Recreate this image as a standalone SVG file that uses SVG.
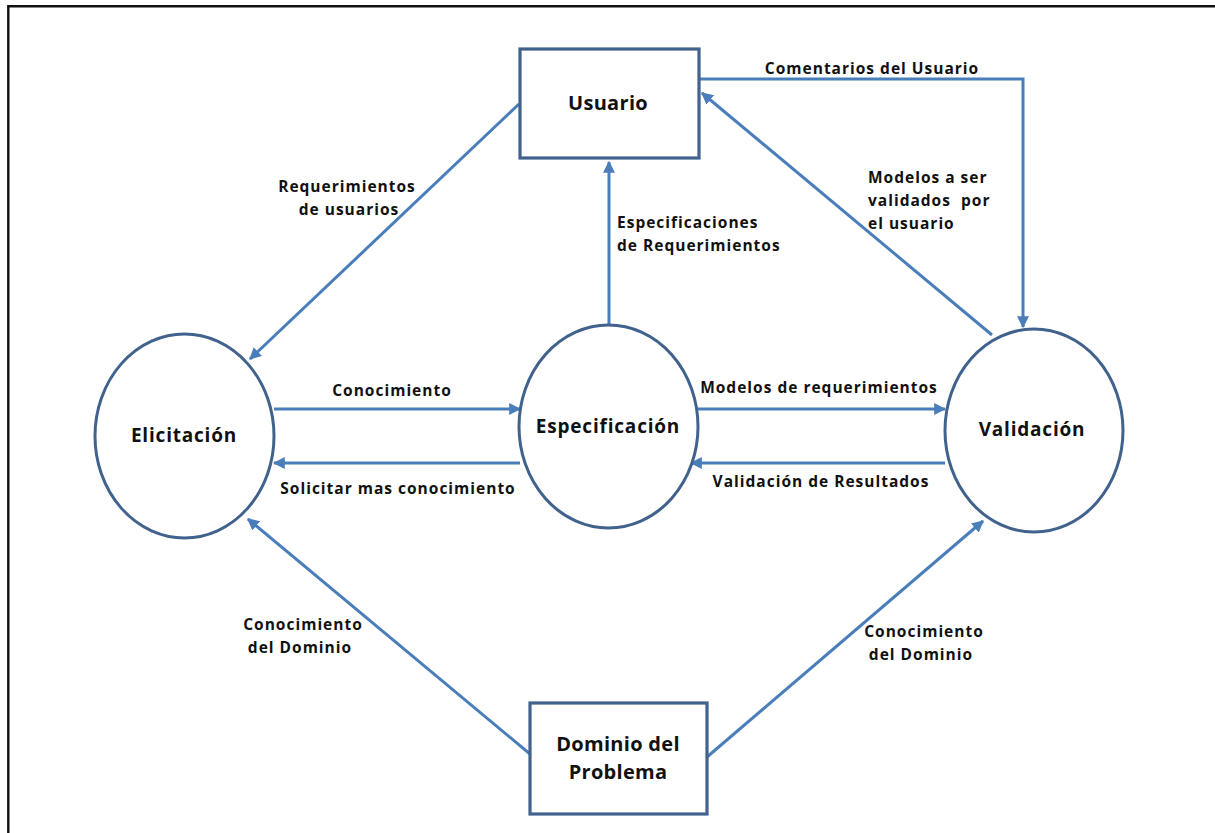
<svg xmlns="http://www.w3.org/2000/svg" width="1215" height="833" viewBox="0 0 1215 833">
  <style>
    .frame { fill: none; stroke: #111; stroke-width: 2.4; }
    .box { fill: #fff; stroke: #41628d; stroke-width: 3.2; }
    .oval { fill: #fff; stroke: #41628d; stroke-width: 3; }
    .edge { fill: none; stroke: #4a7ebb; stroke-width: 3; }
    .node-label { font-family: "Open Sans", "Liberation Sans", sans-serif; font-weight: 700; font-size: 19px; fill: #111; text-anchor: middle; letter-spacing: 0.8px; }
    .edge-label { font-family: "Open Sans", "Liberation Sans", sans-serif; font-weight: 700; font-size: 15.5px; fill: #111; letter-spacing: 1px; }
    .mid { text-anchor: middle; }
  </style>
  <defs>
    <marker id="arrow" viewBox="0 0 10 10" refX="9" refY="5" markerWidth="4" markerHeight="4" orient="auto" markerUnits="strokeWidth">
      <path d="M0,0 L10,5 L0,10 z" fill="#4a7ebb"/>
    </marker>
  </defs>

  <!-- page frame (top and left edges only) -->
  <path class="frame" d="M8.3,833 V6.3 H1215"/>

  <!-- connectors -->
  <g id="connectors">
    <line class="edge" x1="519" y1="104" x2="250" y2="359" marker-end="url(#arrow)"/>
    <line class="edge" x1="609" y1="325" x2="609" y2="162" marker-end="url(#arrow)"/>
    <line class="edge" x1="992" y1="335" x2="702" y2="93" marker-end="url(#arrow)"/>
    <polyline class="edge" points="699,79 1023,79 1023,327" marker-end="url(#arrow)"/>
    <line class="edge" x1="274" y1="409" x2="520" y2="409" marker-end="url(#arrow)"/>
    <line class="edge" x1="520" y1="463" x2="274" y2="463" marker-end="url(#arrow)"/>
    <line class="edge" x1="698" y1="409" x2="945" y2="409" marker-end="url(#arrow)"/>
    <line class="edge" x1="945" y1="463" x2="691" y2="463" marker-end="url(#arrow)"/>
    <line class="edge" x1="530" y1="754" x2="248" y2="519" marker-end="url(#arrow)"/>
    <line class="edge" x1="707" y1="757" x2="983" y2="521" marker-end="url(#arrow)"/>

    <!-- connector labels -->
    <text class="edge-label mid" x="872" y="74">Comentarios del Usuario</text>
    <text class="edge-label mid" x="347" y="192">Requerimientos</text>
    <text class="edge-label mid" x="349" y="215">de usuarios</text>
    <text class="edge-label" x="617" y="228">Especificaciones</text>
    <text class="edge-label" x="617" y="251">de Requerimientos</text>
    <text class="edge-label" x="868" y="183">Modelos a ser</text>
    <text class="edge-label" x="868" y="206" xml:space="preserve">validados  por</text>
    <text class="edge-label" x="868" y="229">el usuario</text>
    <text class="edge-label mid" x="392" y="396">Conocimiento</text>
    <text class="edge-label mid" x="398" y="494">Solicitar mas conocimiento</text>
    <text class="edge-label mid" x="819" y="393">Modelos de requerimientos</text>
    <text class="edge-label mid" x="821" y="487">Validación de Resultados</text>
    <text class="edge-label mid" x="303" y="630">Conocimiento</text>
    <text class="edge-label mid" x="300" y="653">del Dominio</text>
    <text class="edge-label mid" x="924" y="637">Conocimiento</text>
    <text class="edge-label mid" x="921" y="660">del Dominio</text>
  </g>

  <g id="usuario">
    <rect class="box" x="520" y="49" width="179" height="109"/>
    <text class="node-label" x="608" y="110" style="font-size:20px;letter-spacing:0.3px">Usuario</text>
  </g>

  <g id="elicitacion">
    <ellipse class="oval" cx="184.5" cy="436" rx="89.5" ry="102"/>
    <text class="node-label" x="184" y="442">Elicitación</text>
  </g>

  <g id="especificacion">
    <ellipse class="oval" cx="608.5" cy="426.5" rx="89.5" ry="101.5"/>
    <text class="node-label" x="608" y="433">Especificación</text>
  </g>

  <g id="validacion">
    <ellipse class="oval" cx="1034" cy="430.5" rx="89" ry="101.5"/>
    <text class="node-label" x="1032" y="436">Validación</text>
  </g>

  <g id="dominio">
    <rect class="box" x="530" y="703" width="177" height="111"/>
    <text class="node-label" x="618" y="751" style="font-size:20px;letter-spacing:0.3px">Dominio del</text>
    <text class="node-label" x="618" y="779" style="font-size:20px;letter-spacing:0.3px">Problema</text>
  </g>
</svg>
